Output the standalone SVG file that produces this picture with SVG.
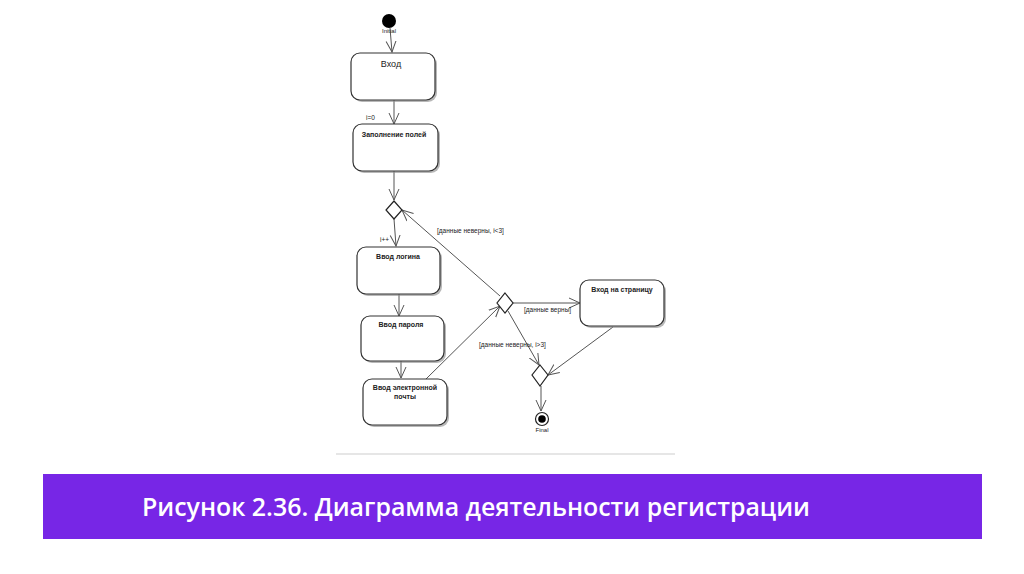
<svg xmlns="http://www.w3.org/2000/svg" width="1024" height="574" viewBox="0 0 1024 574">
<defs>
<marker id="arr" viewBox="0 0 12 12" refX="11" refY="6" markerWidth="12" markerHeight="12" markerUnits="userSpaceOnUse" orient="auto">
<path d="M0,1 L11,6 L0,11" fill="none" stroke="#555" stroke-width="1"/>
</marker>
</defs>
<style>
.box{fill:#fff;stroke:#333;stroke-width:1.2}
.sh{fill:#888;opacity:0.6}
.lbl{font-family:"Liberation Sans",Arial,sans-serif;font-size:7px;font-weight:bold;fill:#222;text-anchor:middle}
.g{font-family:"Liberation Sans",Arial,sans-serif;font-size:6.5px;fill:#222}
.c{stroke:#555;stroke-width:1;fill:none;marker-end:url(#arr)}
.dm{fill:#fff;stroke:#222;stroke-width:1.2}
</style>
<rect width="1024" height="574" fill="#fff"/>
<g id="connectors">
<line class="c" x1="390" y1="28" x2="392" y2="52"/>
<line class="c" x1="394" y1="100" x2="394" y2="124"/>
<line class="c" x1="394" y1="171" x2="394" y2="200"/>
<line class="c" x1="394" y1="219" x2="396" y2="246"/>
<line class="c" x1="399" y1="294" x2="399" y2="316"/>
<line class="c" x1="401" y1="361" x2="401" y2="378"/>
<line class="c" x1="426" y1="379" x2="500" y2="306"/>
<line class="c" x1="500" y1="296" x2="402" y2="210"/>
<line class="c" x1="513" y1="303" x2="580" y2="303"/>
<line class="c" x1="508" y1="311" x2="539" y2="365"/>
<line class="c" x1="613" y1="327" x2="548" y2="375"/>
<line class="c" x1="541" y1="386" x2="541" y2="411"/>
<text class="g" x="366" y="120">i=0</text>
<text class="g" x="380" y="242">i++</text>
<text class="g" x="437" y="233">[данные неверны, i&lt;3]</text>
<text class="g" x="524" y="312">[данные верны]</text>
<text class="g" x="479" y="347">[данные неверны, i&gt;3]</text>
</g>
<g id="initial">
<circle cx="389" cy="21" r="7" fill="#000"/>
<text class="g" x="389" y="33" text-anchor="middle" style="font-size:6px">Initial</text>
</g>
<g id="vhod">
<rect class="sh" x="353" y="55" width="84" height="47" rx="9"/>
<rect class="box" x="351" y="53" width="84" height="47" rx="9"/>
<text class="lbl" x="391" y="67" style="font-weight:normal;font-size:9px">Вход</text>
</g>
<g id="zapolnenie">
<rect class="sh" x="355" y="126" width="85" height="47" rx="9"/>
<rect class="box" x="353" y="124" width="85" height="47" rx="9"/>
<text class="lbl" x="394" y="137">Заполнение полей</text>
</g>
<g id="d1">
<polygon class="dm" points="394,201 402,210 394,219 386,210"/>
</g>
<g id="login">
<rect class="sh" x="359" y="249" width="83" height="47" rx="9"/>
<rect class="box" x="357" y="247" width="83" height="47" rx="9"/>
<text class="lbl" x="398" y="259">Ввод логина</text>
</g>
<g id="parol">
<rect class="sh" x="363" y="318" width="83" height="45" rx="9"/>
<rect class="box" x="361" y="316" width="83" height="45" rx="9"/>
<text class="lbl" x="401" y="327">Ввод пароля</text>
</g>
<g id="email">
<rect class="sh" x="365" y="381" width="84" height="46" rx="9"/>
<rect class="box" x="363" y="379" width="84" height="46" rx="9"/>
<text class="lbl" x="405" y="390">Ввод электронной</text>
<text class="lbl" x="405" y="399">почты</text>
</g>
<g id="d2">
<polygon class="dm" points="505,293 513,303 505,313 497,303"/>
</g>
<g id="stranica">
<rect class="sh" x="582" y="282" width="84" height="46" rx="9"/>
<rect class="box" x="580" y="280" width="84" height="46" rx="9"/>
<text class="lbl" x="622" y="292">Вход на страницу</text>
</g>
<g id="d3">
<polygon class="dm" points="540,365 548,375 540,386 532,375"/>
</g>
<g id="final">
<circle cx="542" cy="419" r="6.5" fill="#fff" stroke="#222" stroke-width="1.2"/>
<circle cx="542" cy="419" r="3.8" fill="#000"/>
<text class="g" x="542" y="432" text-anchor="middle" style="font-size:6px">Final</text>
</g>
<line x1="336" y1="454" x2="675" y2="454" stroke="#e6e6e6" stroke-width="2"/>
<rect x="43" y="474" width="939" height="65" fill="#7726e6"/>
<text x="142" y="516" font-family="'Open Sans','Noto Sans',sans-serif" font-size="26" font-weight="600" fill="#fff" textLength="668" lengthAdjust="spacingAndGlyphs">Рисунок 2.36. Диаграмма деятельности регистрации</text>
</svg>
